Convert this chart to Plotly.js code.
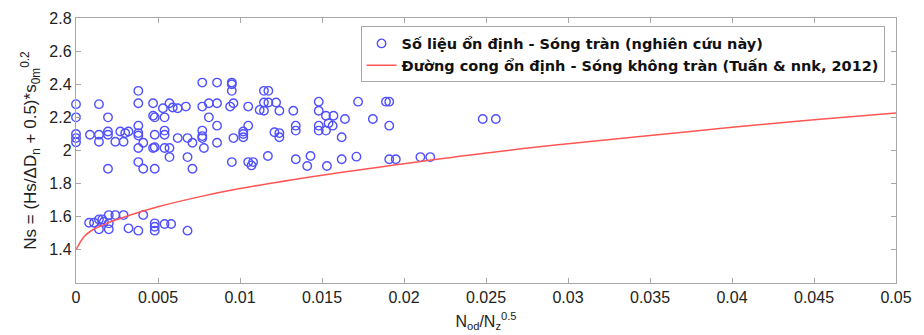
<!DOCTYPE html>
<html>
<head>
<meta charset="utf-8">
<script src="https://cdn.plot.ly/plotly-3.0.1.min.js"></script>
<style>html,body{margin:0;padding:0;background:#fff;}#chart{width:924px;height:335px;}</style>
</head>
<body>
<div id="chart"></div>
<script>
// Observed stability data (overtopping waves, this study)
const dataX = [
  0.0000,0.0000,0.0000,0.0000,0.0000,0.0014,0.00195,0.00085,0.0014,0.0014,
  0.00195,0.00195,0.0024,0.0027,0.0029,0.0030,0.0032,0.00195,0.0038,0.0038,
  0.0038,0.0038,0.0038,0.0041,0.0038,0.0038,0.0041,0.0047,0.0047,0.0048,
  0.0048,0.0047,0.0048,0.0048,0.0053,0.0057,0.0054,0.0054,0.0054,0.0054,
  0.0057,0.0057,0.0062,0.0067,0.0059,0.0062,0.0068,0.0071,0.0068,0.0071,
  0.0077,0.0077,0.0077,0.0077,0.0077,0.0078,0.0081,0.0081,0.0086,0.0086,
  0.0086,0.0086,0.0095,0.0095,0.0095,0.0094,0.0096,0.0096,0.0095,0.0102,
  0.0102,0.0102,0.0105,0.0105,0.0105,0.0108,0.0107,0.0112,0.01146,0.01173,
  0.01146,0.01173,0.0122,0.01146,0.0124,0.01325,0.0117,0.0121,0.0124,0.0124,
  0.0134,0.0134,0.0134,0.0141,0.0143,0.0148,0.0148,0.0148,0.0148,0.01524,
  0.0157,0.0154,0.01565,0.01524,0.0153,0.0162,0.0162,0.0164,0.0171,0.0172,
  0.0181,0.0189,0.0191,0.0191,0.0191,0.0195,0.0210,0.0216,0.0248,0.0256,
  0.0008,0.0011,0.0014,0.0016,0.0017,0.0020,0.0024,0.0029,0.0041,0.0014,
  0.0020,0.0020,0.0032,0.0038,0.0048,0.0048,0.0048,0.0054,0.0058,0.0068
];
const dataY = [
  2.28,2.20,2.10,2.075,2.05,2.28,2.20,2.095,2.095,2.053,
  2.115,2.095,2.053,2.115,2.053,2.105,2.115,1.89,2.36,2.285,
  2.15,2.105,2.09,2.047,2.015,1.93,1.89,2.285,2.21,2.20,
  2.095,2.015,2.02,1.89,2.255,2.285,2.20,2.12,2.095,2.015,
  2.015,1.96,2.255,2.265,2.26,2.075,2.075,2.047,1.96,1.89,
  2.41,2.265,2.12,2.087,2.075,2.015,2.285,2.20,2.41,2.285,
  2.15,2.047,2.41,2.40,2.36,2.265,2.285,2.075,1.93,2.115,
  2.10,2.08,2.265,2.15,1.93,1.93,1.91,2.245,2.36,2.36,
  2.29,2.29,2.29,2.24,2.24,2.24,1.967,2.11,2.105,2.08,
  2.15,2.12,1.947,1.906,1.967,2.295,2.24,2.15,2.12,2.21,
  2.21,2.164,2.15,2.12,1.906,1.947,2.08,2.19,1.963,2.295,
  2.19,2.295,2.295,2.15,1.947,1.947,1.96,1.96,2.19,2.19,
  1.564,1.564,1.584,1.584,1.57,1.61,1.61,1.61,1.61,1.524,
  1.524,1.56,1.53,1.516,1.56,1.54,1.516,1.556,1.556,1.516
];
// Stability curve, non-overtopping waves (Tuấn & nnk, 2012)
const curveX = [0,0.0005,0.001,0.002,0.003,0.005,0.0075,0.01,0.015,0.02,0.025,0.03,0.035,0.04,0.045,0.05];
const curveY = [1.40,1.48,1.52,1.565,1.60,1.66,1.72,1.77,1.85,1.92,1.985,2.04,2.09,2.14,2.185,2.227];

const seriesNames = [
  "Số liệu ổn định - Sóng tràn (nghiên cứu này)",
  "Đường cong ổn định - Sóng không tràn (Tuấn & nnk, 2012)"
];
const yTicks = [1.4,1.6,1.8,2.0,2.2,2.4,2.6,2.8];
const xTicks = [0,0.005,0.01,0.015,0.02,0.025,0.03,0.035,0.04,0.045,0.05];
const yTickText = ["1.4","1.6","1.8","2","2.2","2.4","2.6","2.8"];
const xTickText = ["0","0.005","0.01","0.015","0.02","0.025","0.03","0.035","0.04","0.045","0.05"];

const FONT = 'Liberation Sans, Arial, sans-serif';

const traces = [
  {
    x: dataX, y: dataY, type: 'scatter', mode: 'markers',
    name: '<b>' + seriesNames[0] + '</b>',
    cliponaxis: false,
    marker: {symbol: 'circle-open', size: 8.5, color: 'rgb(80,80,255)', line: {width: 1.4, color: 'rgb(80,80,255)'}}
  },
  {
    x: curveX, y: curveY, type: 'scatter', mode: 'lines',
    name: '<b>' + seriesNames[1] + '</b>',
    line: {color: 'rgb(255,85,85)', width: 1.5, shape: 'spline'}
  }
];

const axisCommon = {
  showgrid: false, zeroline: false, showline: true, mirror: 'ticks',
  linecolor: '#a8a8a8', linewidth: 1.2, ticks: 'inside', ticklen: 5,
  tickcolor: '#a8a8a8', tickwidth: 1,
  tickfont: {family: FONT, size: 16, color: '#222'}
};

const layout = {
  width: 924, height: 335,
  margin: {l: 76, r: 28, t: 18, b: 52},
  paper_bgcolor: '#fff', plot_bgcolor: '#fff',
  showlegend: true,
  legend: {
    x: 0.347, y: 0.968, xanchor: 'left', yanchor: 'top',
    bgcolor: '#fff', bordercolor: '#a8a8a8', borderwidth: 1,
    font: {family: 'DejaVu Sans, sans-serif', size: 14.5, color: '#111'},
    tracegroupgap: 0, itemwidth: 30
  },
  xaxis: Object.assign({}, axisCommon, {
    range: [0, 0.05], tickvals: xTicks, ticktext: xTickText,
    title: {text: 'N<sub>od</sub>/N<sub>z</sub><sup>0.5</sup>', standoff: 10,
      font: {family: FONT, size: 16, color: '#222'}}
  }),
  yaxis: Object.assign({}, axisCommon, {
    range: [1.2, 2.8], tickvals: yTicks, ticktext: yTickText,
    title: {text: 'Ns = (Hs/ΔD<sub>n</sub> + 0.5)*s<sub>0m</sub><sup>0.2</sup>', standoff: 8,
      font: {family: FONT, size: 17, color: '#222'}}
  })
};

Plotly.newPlot('chart', traces, layout, {displayModeBar: false, staticPlot: true});
</script>
</body>
</html>
